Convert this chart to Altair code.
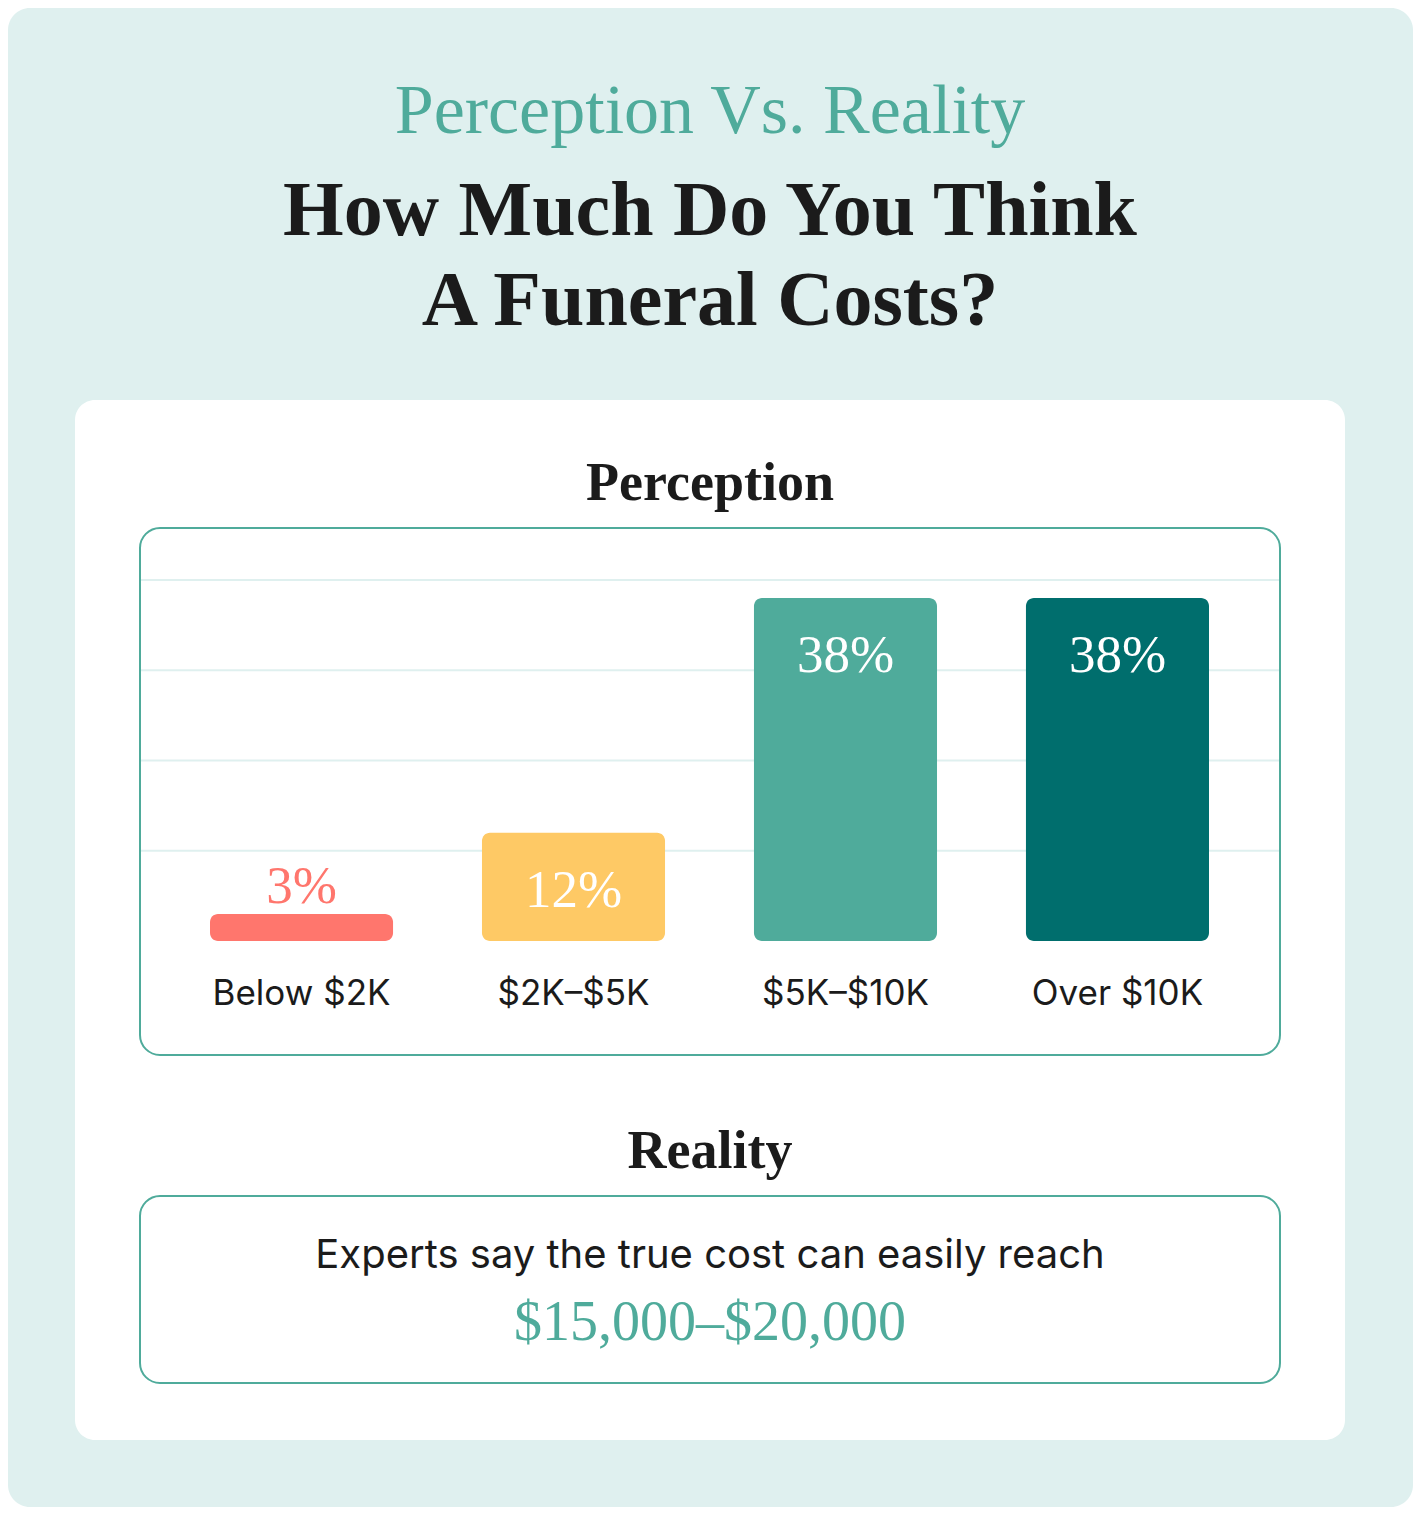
"""Perception vs. reality: what people think a funeral costs."""

import altair as alt
import pandas as pd

# data
categories = ["Below $2K", "$2K–$5K", "$5K–$10K", "Over $10K"]
shares = [3, 12, 38, 38]
bar_colors = ["#ff766d", "#fec965", "#4fab9b", "#006e6d"]
gridlines = [10, 20, 30, 40]

kicker = "Perception Vs. Reality"
headline = ["How Much Do You Think", "A Funeral Costs?"]
reality_text = "Experts say the true cost can easily reach"
reality_range = "$15,000–$20,000"

TEAL = "#4fab9b"
INK = "#1b1b1b"
BG = "#dff0ef"
SERIF = "Liberation Serif"
SANS = "Inter"
CX = 702  # horizontal centre of the page, chart coords

bars = pd.DataFrame({"cat": categories, "value": shares})
grid = pd.DataFrame({"value": gridlines})
one = pd.DataFrame({"k": [0]})

x_band = alt.Scale(domain=categories, range=[202, 1201], paddingInner=0.327, paddingOuter=0)
y_lin = alt.Scale(domain=[0, 40], range=[933, 572])


def panel(x0, x1, y0, y1, fill, radius, stroke=None):
    """A rounded decorative rectangle."""
    opts = {"fill": fill, "cornerRadius": radius}
    if stroke:
        opts.update(stroke=stroke, strokeWidth=2)
    return alt.Chart(one).mark_rect(**opts).encode(
        x=alt.value(x0), x2=alt.value(x1), y=alt.value(y0), y2=alt.value(y1)
    )


def label(text, y, size, color=INK, font=SERIF, weight="normal"):
    """A centred free-standing text line."""
    return alt.Chart(one).mark_text(
        text=text, align="center", baseline="alphabetic", fontSize=size,
        font=font, fontWeight=weight, color=color,
    ).encode(x=alt.value(CX), y=alt.value(y))


backdrop = [
    panel(0, 1405, 0, 1499, BG, 22),
    panel(67, 1337, 392, 1432, "white", 20),
    panel(132, 1272, 520, 1047, "white", 20, stroke=TEAL),
    panel(132, 1272, 1188, 1375, "white", 20, stroke=TEAL),
]

titles = [
    label(kicker, 125, 70, color=TEAL),
    label(headline[0], 227, 78, weight="bold"),
    label(headline[1], 317, 78, weight="bold"),
    label("Perception", 492, 54, weight="bold"),
    label("Reality", 1160, 54, weight="bold"),
    label(reality_text, 1260, 40, font=SANS),
    label(reality_range, 1332, 56, color=TEAL),
]

grid_rules = alt.Chart(grid).mark_rule(color=BG, strokeWidth=2).encode(
    y=alt.Y("value:Q", scale=y_lin, axis=None),
    x=alt.value(133),
    x2=alt.value(1271),
)

bar_marks = alt.Chart(bars).mark_bar(cornerRadius=8).encode(
    x=alt.X("cat:N", scale=x_band, sort=categories, axis=None),
    y=alt.Y("value:Q", scale=y_lin, axis=None),
    y2=alt.datum(0),
    color=alt.Color("cat:N", scale=alt.Scale(domain=categories, range=bar_colors), legend=None),
)

pct = alt.Chart(bars).transform_calculate(txt="datum.value + '%'")

inside_labels = pct.transform_filter(alt.datum.value >= 10).mark_text(
    font=SERIF, fontSize=53, color="white", baseline="middle", dy=58
).encode(
    x=alt.X("cat:N", scale=x_band, sort=categories, bandPosition=0.5, axis=None),
    y=alt.Y("value:Q", scale=y_lin, axis=None),
    text="txt:N",
)

outside_labels = pct.transform_filter(alt.datum.value < 10).mark_text(
    font=SERIF, fontSize=53, baseline="middle", dy=-27
).encode(
    x=alt.X("cat:N", scale=x_band, sort=categories, bandPosition=0.5, axis=None),
    y=alt.Y("value:Q", scale=y_lin, axis=None),
    text="txt:N",
    color=alt.Color("cat:N", scale=alt.Scale(domain=categories, range=bar_colors), legend=None),
)

cat_labels = alt.Chart(bars).mark_text(
    font=SANS, fontSize=35, color=INK, baseline="alphabetic"
).encode(
    x=alt.X("cat:N", scale=x_band, sort=categories, bandPosition=0.5, axis=None),
    y=alt.value(997),
    text="cat:N",
)

chart = (
    alt.layer(*backdrop, *titles, grid_rules, bar_marks, inside_labels, outside_labels, cat_labels)
    .properties(width=1405, height=1499, autosize="none", padding=0, background="white")
    .configure_view(strokeWidth=0)
)

chart.save("out.html", embed_options={"renderer": "svg", "actions": False})
